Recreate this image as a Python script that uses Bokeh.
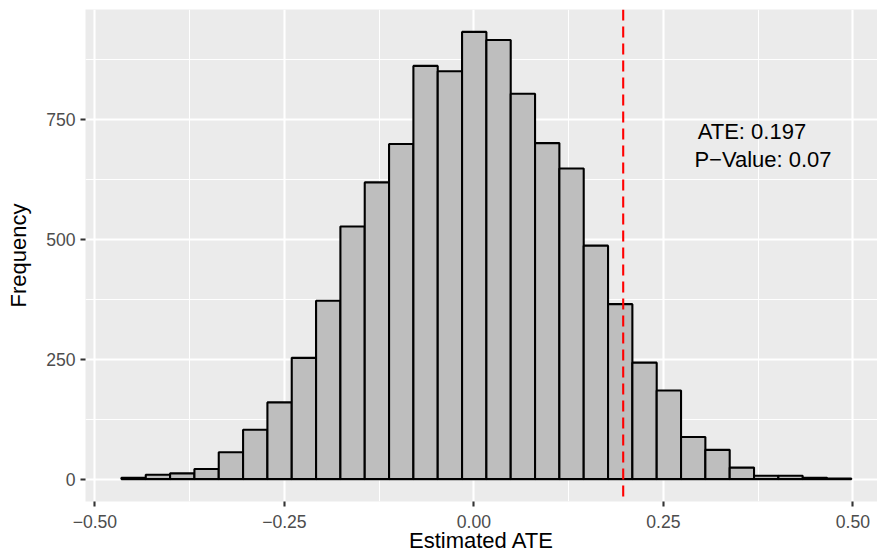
import numpy as np
from bokeh.plotting import figure
from bokeh.models import Range1d, FixedTicker, Span, Label, ColumnDataSource
from bokeh.embed import file_html
from bokeh.resources import INLINE

# Histogram of estimated ATEs from the permutation draws
counts = [3, 9, 12, 21, 56, 103, 160, 253, 372, 527, 619, 699, 862, 851, 933,
          916, 804, 701, 648, 487, 365, 243, 185, 88, 61, 24, 7, 7, 3, 1]
bin_start = -0.465
bin_width = 0.0321

observed_ate = 0.197
p_value = 0.07

x_ticks = [-0.5, -0.25, 0.0, 0.25, 0.5]
x_tick_labels = ["\u22120.50", "\u22120.25", "0.00", "0.25", "0.50"]
y_ticks = [0, 250, 500, 750]
y_tick_labels = ["0", "250", "500", "750"]

FONT = "Liberation Sans"

edges = bin_start + bin_width * np.arange(len(counts) + 1)
src = ColumnDataSource(dict(left=edges[:-1], right=edges[1:], top=counts))

p = figure(width=877, height=555, output_backend="svg", toolbar_location=None,
           x_range=Range1d(-0.5124, 0.5325), y_range=Range1d(-46.7, 979.7),
           min_border_left=85, min_border_right=0, min_border_top=9,
           min_border_bottom=54)

p.background_fill_color = "#EBEBEB"
p.border_fill_color = "white"
p.outline_line_color = None

# grid: major at ticks, minor halfway between
x_minor = [(a + b) / 2 for a, b in zip(x_ticks[:-1], x_ticks[1:])]
y_minor = [(a + b) / 2 for a, b in zip(y_ticks[:-1], y_ticks[1:])] + [y_ticks[-1] + 125]
p.xgrid.ticker = FixedTicker(ticks=x_ticks, minor_ticks=x_minor)
p.ygrid.ticker = FixedTicker(ticks=y_ticks, minor_ticks=y_minor)
for g in (p.xgrid, p.ygrid):
    g.grid_line_color = "white"
    g.grid_line_width = 2.1
    g.minor_grid_line_color = "white"
    g.minor_grid_line_width = 1.1

p.quad(left="left", right="right", top="top", bottom=0, source=src,
       fill_color="#BEBEBE", line_color="black", line_width=2.1)

p.add_layout(Span(location=observed_ate, dimension="height", line_color="red",
                  line_width=2.1, line_dash="11 6"))

# axes
p.xaxis.ticker = FixedTicker(ticks=x_ticks)
p.xaxis.major_label_overrides = {t: s for t, s in zip(x_ticks, x_tick_labels)}
p.yaxis.ticker = FixedTicker(ticks=y_ticks)
p.yaxis.major_label_overrides = {t: s for t, s in zip(y_ticks, y_tick_labels)}
for ax in (p.xaxis, p.yaxis):
    ax.axis_line_color = None
    ax.minor_tick_line_color = None
    ax.major_tick_line_color = "#333333"
    ax.major_tick_line_width = 2.1
    ax.major_tick_in = 0
    ax.major_tick_out = 5
    ax.major_label_text_font = FONT
    ax.major_label_text_font_size = "17.6px"
    ax.major_label_text_color = "#4D4D4D"
    ax.major_label_standoff = 5
    ax.axis_label_text_font = FONT
    ax.axis_label_text_font_size = "22px"
    ax.axis_label_text_font_style = "normal"
    ax.axis_label_text_color = "black"

p.yaxis.axis_label = "Frequency"
p.yaxis.axis_label_standoff = 12
p.xaxis.axis_label = "Estimated ATE"
p.xaxis.major_label_standoff = 8
p.xaxis.axis_label_standoff = -3

p.add_layout(Label(x=0.2953, y=725.8, text="ATE: %.3f" % observed_ate,
                   text_align="left", text_baseline="alphabetic",
                   text_font=FONT, text_font_size="22px", text_color="black"))
p.add_layout(Label(x=0.2909, y=666.2, text="P\u2212Value: %.2f" % p_value,
                   text_align="left", text_baseline="alphabetic",
                   text_font=FONT, text_font_size="22px", text_color="black"))

open("out.html", "w").write(file_html(p, INLINE))
